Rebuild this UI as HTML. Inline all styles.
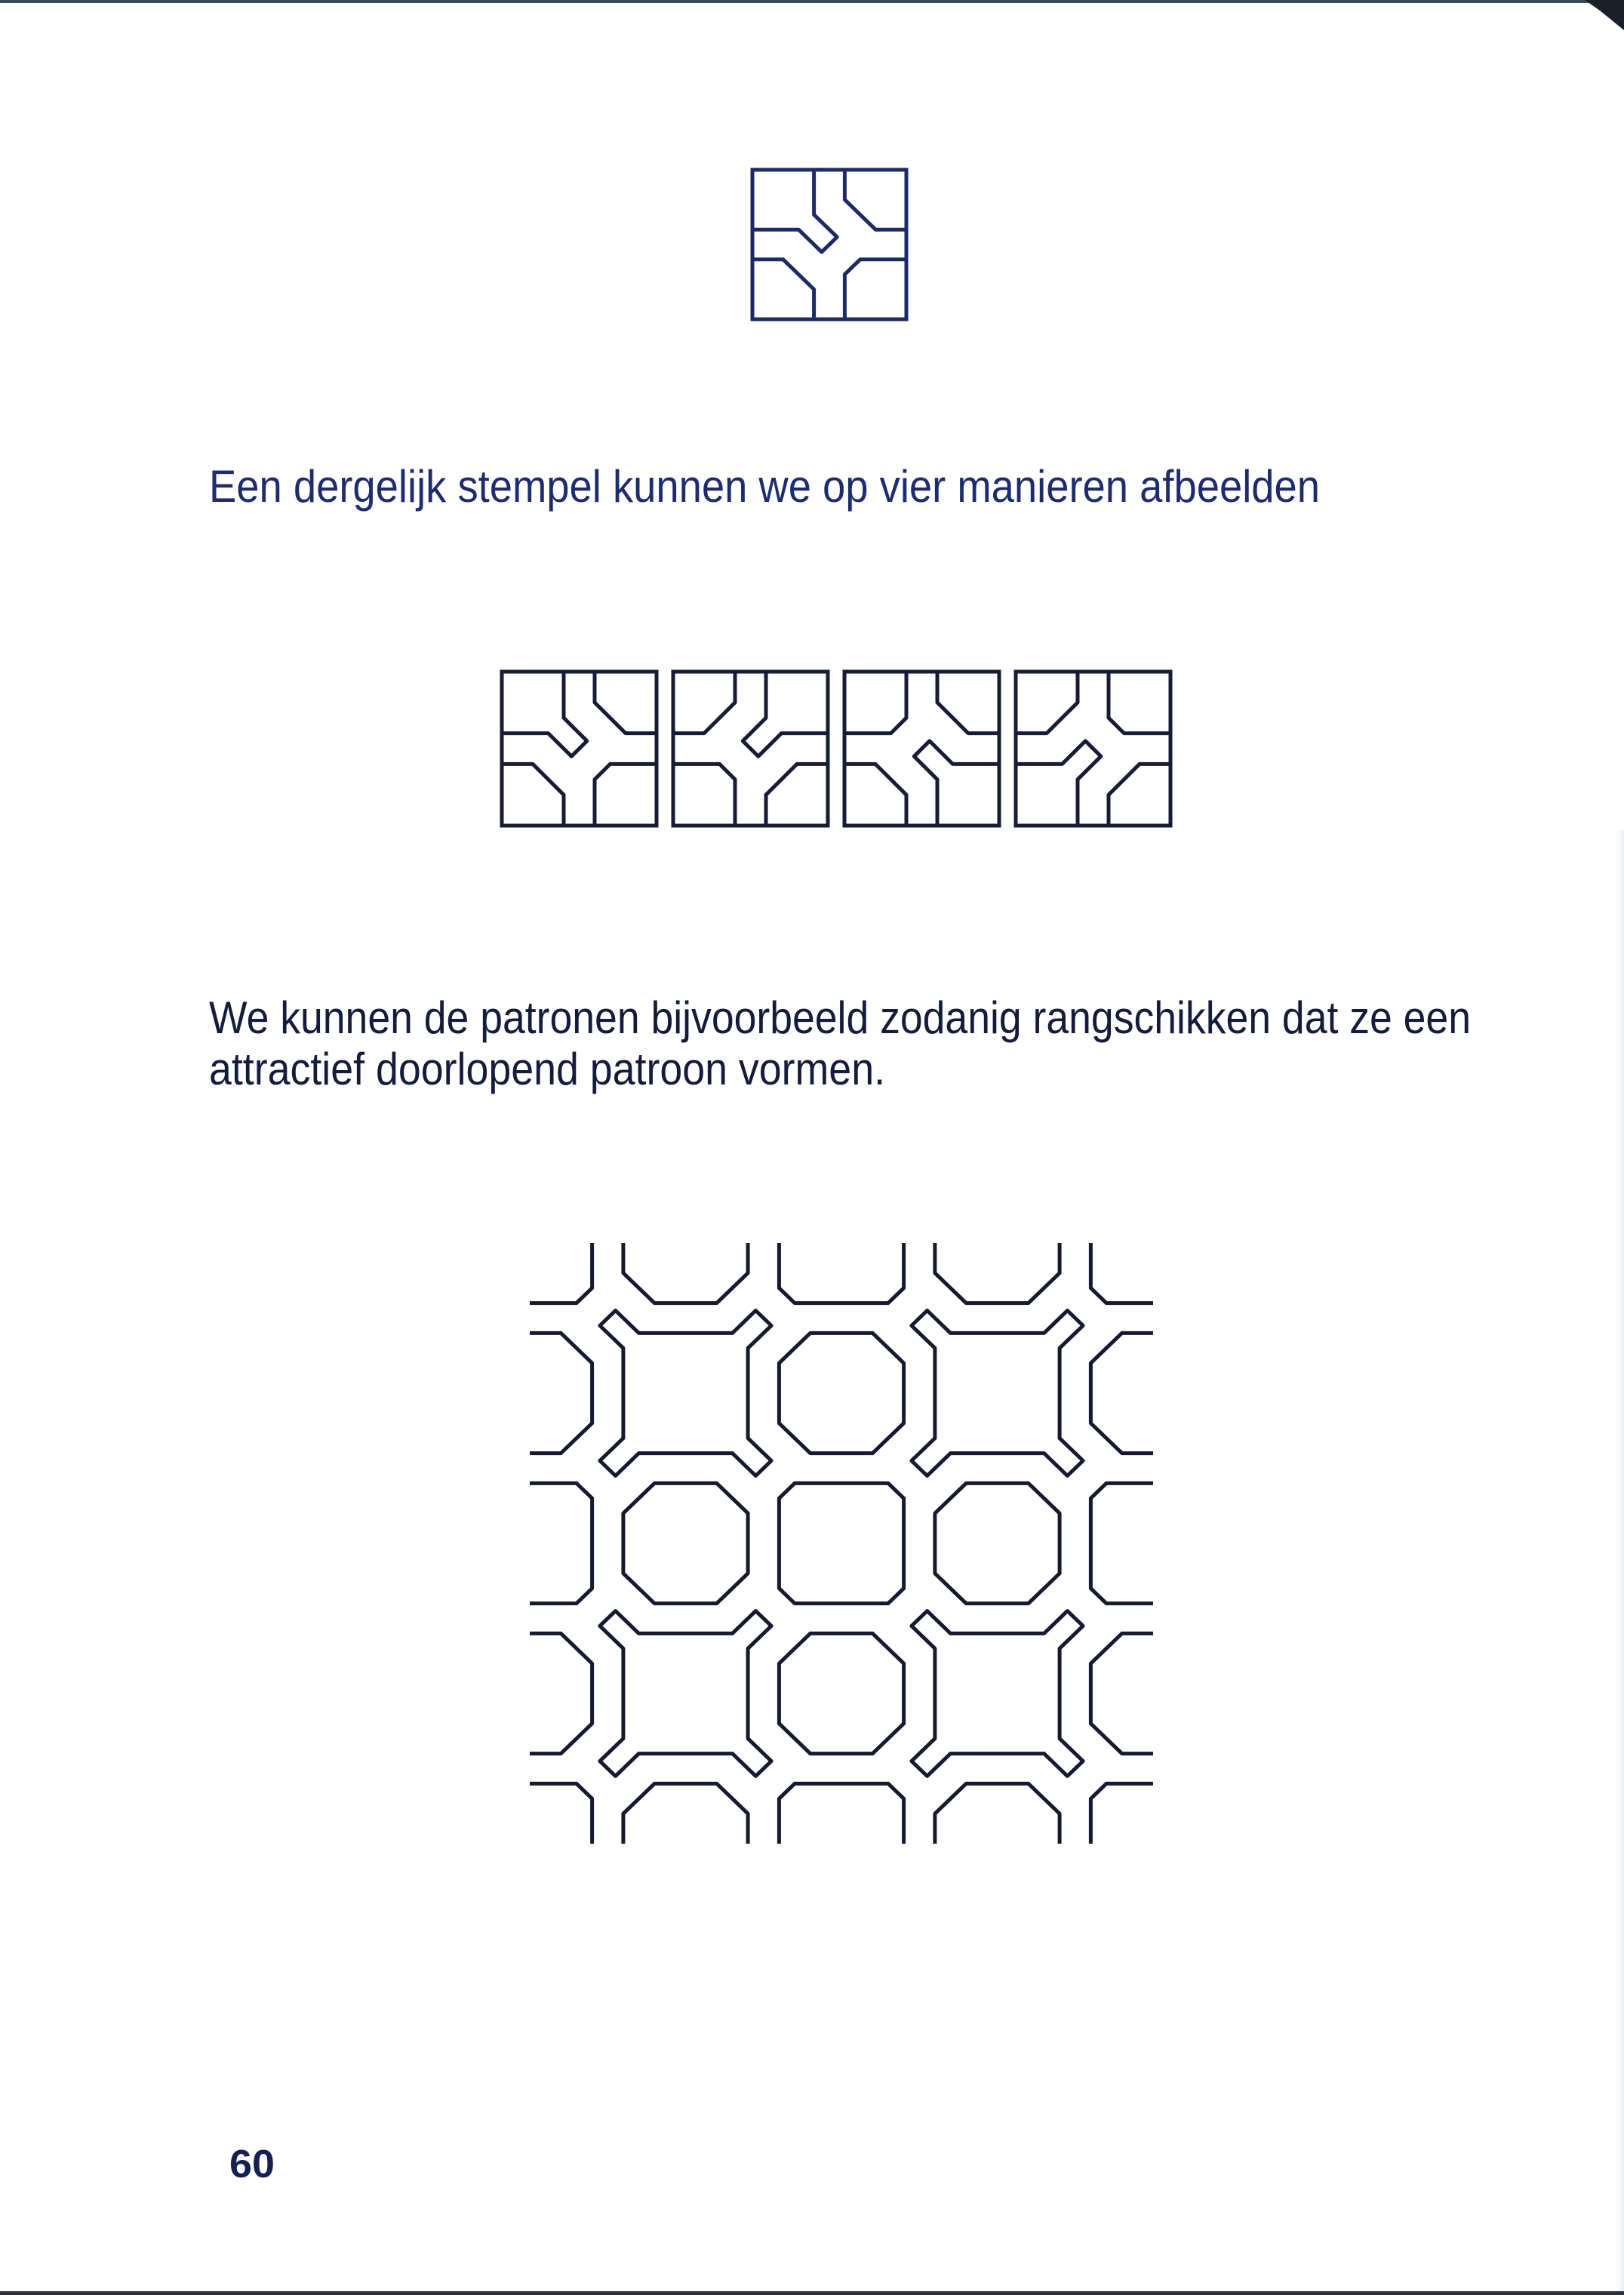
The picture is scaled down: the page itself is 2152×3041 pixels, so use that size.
<!DOCTYPE html>
<html><head><meta charset="utf-8"><title>Stempel patronen - p60</title>
<style>
html,body{margin:0;padding:0;background:#fff;}
svg{display:block;}
text{font-family:"Liberation Sans",Arial,sans-serif;}
</style></head>
<body>
<svg id="page" width="2152" height="3041" viewBox="0 0 2152 3041" xmlns="http://www.w3.org/2000/svg">
<defs>
<linearGradient id="edge" x1="0" x2="1" y1="0" y2="0">
<stop offset="0" stop-color="#ffffff" stop-opacity="0"/>
<stop offset="1" stop-color="#c8d8ec" stop-opacity="0.45"/>
</linearGradient>
</defs>
<rect width="2152" height="3041" fill="#ffffff"/>
<rect x="2138" y="1100" width="14" height="1941" fill="url(#edge)"/>
<rect x="0" y="0" width="2152" height="4" fill="#3a4a5a"/>
<polygon points="2100,0 2152,0 2152,40 2120,14" fill="#1a1f2a"/>
<rect x="0" y="3036" width="2152" height="5" fill="#2a3040"/>

<g id="topStamp"></g>

<text x="277" y="665" font-size="60" fill="#1d2c6e" textLength="1472" lengthAdjust="spacingAndGlyphs">Een dergelijk stempel kunnen we op vier manieren afbeelden</text>

<g id="fourStamps"></g>

<text x="277" y="1369" font-size="60" fill="#141c3c" textLength="1672" lengthAdjust="spacingAndGlyphs">We kunnen de patronen bijvoorbeeld zodanig rangschikken dat ze een</text>
<text x="277" y="1437" font-size="60" fill="#141c3c" textLength="896" lengthAdjust="spacingAndGlyphs">attractief doorlopend patroon vormen.</text>

<g id="pattern"></g>

<text x="304" y="2885" font-size="52" font-weight="bold" fill="#142050" textLength="60" lengthAdjust="spacingAndGlyphs">60</text>
</svg>
<script>
// stamp geometry in units (tile = 10 units)
const cornerArm = [[4,0],[4,3],[5.5,4.5],[4.5,5.5],[3,4],[0,4]];
const cornerBigTR = [[6,0],[6,2],[8,4],[10,4]];
const cornerBigBL = [[0,6],[2,6],[4,8],[4,10]];
const cornerSmallBR = [[6,10],[6,7],[7,6],[10,6]];
const stampLines = [cornerArm, cornerBigTR, cornerBigBL, cornerSmallBR];
// orientations (quarter turns clockwise)
const rowRotations = [0,1,2,3];
const patternRotations = [[2,3,2,3],[1,0,1,0],[2,3,2,3],[1,0,1,0]];

const NS = "http://www.w3.org/2000/svg";
function rotPt(p, r){
  let x=p[0], y=p[1];
  for(let i=0;i<r;i++){ const nx=10-y, ny=x; x=nx; y=ny; }
  return [x,y];
}
function drawStamp(parent, x0, y0, w, h, r, border, color, sw){
  const g = document.createElementNS(NS,'g');
  
  
  const ux = w/10, uy = h/10;
  if(border){
    const rect = document.createElementNS(NS,'rect');
    rect.setAttribute('x', x0); rect.setAttribute('y', y0);
    rect.setAttribute('width', w); rect.setAttribute('height', h);
    rect.setAttribute('fill','none'); rect.setAttribute('stroke',color);
    rect.setAttribute('stroke-width', sw);
    
    
    g.appendChild(rect);
  }
  stampLines.forEach(line=>{
    const pts = line.map(p=>{const q=rotPt(p,r); return (x0+q[0]*ux).toFixed(1)+','+(y0+q[1]*uy).toFixed(1);}).join(' ');
    const pl = document.createElementNS(NS,'polyline');
    pl.setAttribute('points', pts);
    pl.setAttribute('fill','none'); pl.setAttribute('stroke',color);
    pl.setAttribute('stroke-width', sw);
    pl.setAttribute('stroke-linejoin','round');
    
    
    g.appendChild(pl);
  });
  parent.appendChild(g);
}
drawStamp(document.getElementById('topStamp'), 997, 225, 204, 198, 0, true, '#1c2a66', 5);
const rowG = document.getElementById('fourStamps');
rowRotations.forEach((r,i)=>{
  drawStamp(rowG, 665 + i*227, 890, 205, 204, r, true, '#161c36', 5);
});
const patG = document.getElementById('pattern');
patternRotations.forEach((row,j)=>{
  row.forEach((r,i)=>{
    drawStamp(patG, 702 + i*206.5, 1647 + j*199, 206.5, 199, r, false, '#161a30', 5);
  });
});
</script>
</body></html>
